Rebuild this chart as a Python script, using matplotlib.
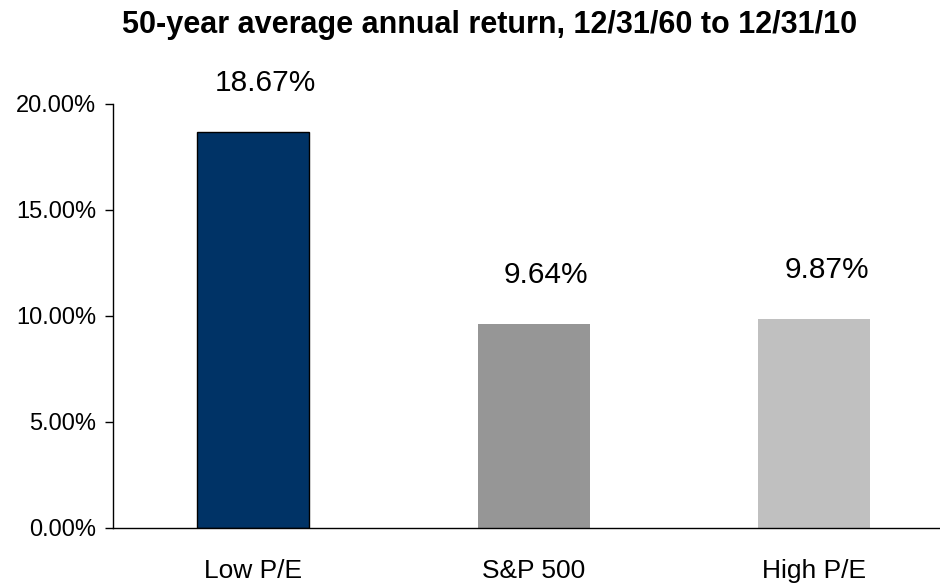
import matplotlib
matplotlib.use("Agg")
import matplotlib.pyplot as plt
from matplotlib.ticker import FuncFormatter

plt.rcParams["font.family"] = ["Liberation Sans", "DejaVu Sans"]

categories = ["Low P/E", "S&P 500", "High P/E"]
returns = [18.67, 9.64, 9.87]
colors = ["#003366", "#969696", "#C0C0C0"]
edges = ["black", "none", "none"]
yticks = [0, 5, 10, 15, 20]

fig = plt.figure(figsize=(9.4, 5.85), dpi=100)
ax = fig.add_axes([113 / 940, 57 / 585, 841.5 / 940, 424 / 585])

x = range(len(categories))
ax.bar(x, returns, width=0.4, color=colors, edgecolor=edges, linewidth=1)

for xi, v in zip(x, returns):
    ax.annotate(f"{v:.2f}%", (xi, v), xytext=(9, 25), textcoords="offset points",
                ha="center", va="bottom", fontsize=21.5)

ax.set_xlim(-0.5, 2.5)
ax.set_ylim(0, 20)
ax.set_yticks(yticks)
ax.yaxis.set_major_formatter(FuncFormatter(lambda v, p: f"{v:.2f}%"))
ax.set_xticks(list(x))
ax.set_xticklabels(categories, fontsize=19)
ax.tick_params(axis="x", length=0, pad=22)
ax.tick_params(axis="y", direction="out", length=6, width=1, pad=6, labelsize=17)

for s in ("top", "right"):
    ax.spines[s].set_visible(False)
for s in ("left", "bottom"):
    ax.spines[s].set_linewidth(1)
    ax.spines[s].set_color("black")

fig.text(490 / 940, 1 - 25 / 585, "50-year average annual return, 12/31/60 to 12/31/10",
         ha="center", va="center", fontsize=22, fontweight="bold")

fig.savefig("out.png", dpi=100)
